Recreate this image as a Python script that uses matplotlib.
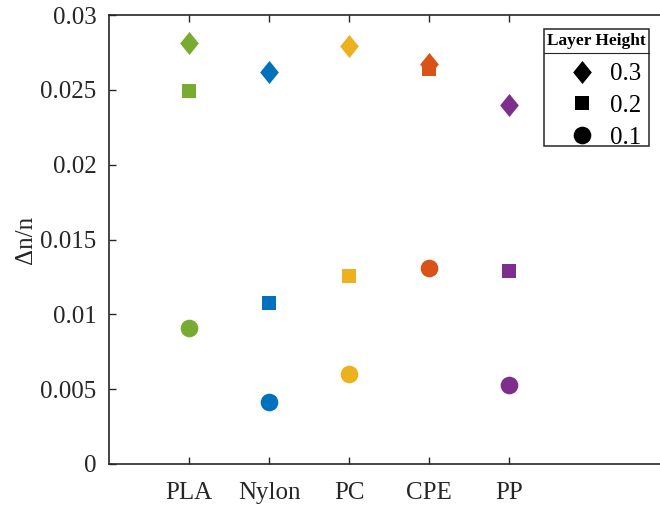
import numpy as np
import matplotlib
matplotlib.use('Agg')
import matplotlib.pyplot as plt
from matplotlib.path import Path
from matplotlib.lines import Line2D
from matplotlib.patches import Rectangle

plt.rcParams['font.family'] = ['Liberation Serif', 'DejaVu Serif']
plt.rcParams['font.size'] = 18

# Data.
materials = ['PLA', 'Nylon', 'PC', 'CPE', 'PP']
colors = ['#77AC30', '#0072BD', '#EDB120', '#D95319', '#7E2F8E']
dn_03 = [0.02815, 0.02621, 0.02791, 0.02671, 0.02399]
dn_02 = [0.02492, 0.01078, 0.01256, 0.02641, 0.01292]
dn_01 = [0.00909, 0.00416, 0.00601, 0.01308, 0.00528]
heights = ['0.3', '0.2', '0.1']

# MATLAB-like tall diamond.
diamond = Path([(0, 1), (0.81, 0), (0, -1), (-0.81, 0), (0, 1)],
               [Path.MOVETO, Path.LINETO, Path.LINETO, Path.LINETO, Path.CLOSEPOLY])

W, H = 660, 505
fig = plt.figure(figsize=(W / 100, H / 100), dpi=100)
ax = fig.add_axes([109 / W, (H - 464) / H, 560 / W, 449 / H])

x = np.arange(1, len(materials) + 1)
for i in range(len(materials)):
    ax.plot(x[i], dn_03[i], linestyle='none', marker=diamond, markersize=16.6,
            color=colors[i], markeredgewidth=0)
for i in range(len(materials)):
    ax.plot(x[i], dn_02[i], linestyle='none', marker='s', markersize=10.6,
            color=colors[i], markeredgewidth=0)
for i in range(len(materials)):
    ax.plot(x[i], dn_01[i], linestyle='none', marker='o', markersize=12.7,
            color=colors[i], markeredgewidth=0)

ax.set_xlim(0, 7)
ax.set_ylim(0, 0.03)
ax.set_xticks(x)
ax.set_xticklabels(materials)
ax.set_yticks([0, 0.005, 0.01, 0.015, 0.02, 0.025, 0.03])
ax.set_yticklabels(['0', '0.005', '0.01', '0.015', '0.02', '0.025', '0.03'])
ax.tick_params(direction='in', length=5, width=1, colors='#262626',
               top=True, right=True, pad=9)
ax.tick_params(axis='x', pad=13)
for s in ax.spines.values():
    s.set_color('#262626')
    s.set_linewidth(1.2)
ax.set_ylabel('Δn/n', labelpad=2, color='#262626')
for t in ax.get_xticklabels() + ax.get_yticklabels():
    t.set_color('#262626')

# Legend: frame, title and separator drawn by hand, entries via legend().
def fx(px):
    return px / W

def fy(py):
    return 1 - py / H

fig.add_artist(Rectangle((fx(544), fy(146)), fx(649) - fx(544), fy(29) - fy(146),
                         transform=fig.transFigure, facecolor='white',
                         edgecolor='#262626', linewidth=1.1, zorder=3))
fig.add_artist(Line2D([fx(544), fx(649)], [fy(53), fy(53)],
                      transform=fig.transFigure, color='#262626', linewidth=0.8, zorder=4))
fig.text(fx(596.5), fy(41), 'Layer Height', fontsize=12.5, fontweight='bold',
         ha='center', va='center', zorder=4)

handles = [
    Line2D([], [], linestyle='none', marker=diamond, markersize=16.6, color='k', markeredgewidth=0),
    Line2D([], [], linestyle='none', marker='s', markersize=10.6, color='k', markeredgewidth=0),
    Line2D([], [], linestyle='none', marker='o', markersize=12.7, color='k', markeredgewidth=0),
]
leg = fig.legend(handles, heights, loc='upper left',
                 bbox_to_anchor=(fx(567), fy(63)), bbox_transform=fig.transFigure,
                 fontsize=18, frameon=False, handlelength=1.2, handletextpad=0.52,
                 labelspacing=0.36, borderpad=0, borderaxespad=0)
leg.set_zorder(5)

plt.savefig('out.png', dpi=100)
